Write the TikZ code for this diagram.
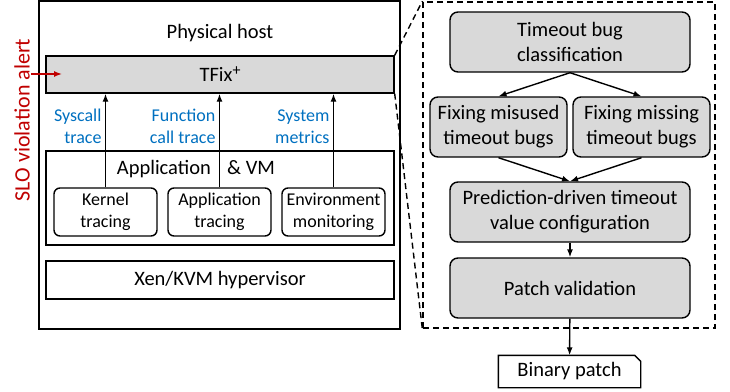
\documentclass[tikz,border=0pt]{standalone}
\usepackage{fontspec}
\setmainfont{Carlito}
\usetikzlibrary{arrows.meta}

\definecolor{boxgray}{RGB}{217,217,217}
\definecolor{traceblue}{RGB}{0,112,192}
\definecolor{alertred}{RGB}{192,0,0}

\begin{document}
\begin{tikzpicture}[x=1pt, y=-1pt, line width=1.4pt, >={Latex[length=8pt,width=6pt]},
        big/.style={font=\fontsize{20.5}{25}\selectfont},
        small/.style={font=\fontsize{18}{22}\selectfont},
        layer/.style={draw, rectangle, minimum width=348, minimum height=#1, inner sep=0pt, big},
        probe/.style={draw, rounded corners=6pt, minimum width=103, minimum height=48, inner sep=0pt, align=center, small},
        stage/.style={draw, fill=boxgray, rounded corners=8pt, minimum width=240, minimum height=60, inner sep=0pt, align=center, big}]
        \useasboundingbox (0,0) rectangle (730,391);

        % physical host
        \node [draw, minimum width=361, minimum height=328, inner sep=0pt] (host) at (219.5,165) {};
        \node [big] (hostlbl) at (220,33) {Physical host};
        \node [layer=37, fill=boxgray] (tfix) at (220,74.5) {TFix\raisebox{0.6ex}{\fontsize{16}{16}\selectfont +}};
        \node [layer=94] (appvm) at (220,198) {};
        \node [big] (appvmlbl) at (196,169) {Application\hspace{0.8em}\& VM};
        \node [layer=38] (hyper) at (220,280) {Xen/KVM hypervisor};

        \node [probe] (kernel) at (105.5,212) {Kernel\\tracing};
        \node [probe] (apptr) at (219.5,212) {Application\\tracing};
        \node [probe] (envmon) at (333.5,212) {Environment\\monitoring};

        \foreach \p/\t in {kernel/{Syscall\\trace}, apptr/{Function\\call trace}, envmon/{System\\metrics}}{
            \draw [->] (\p.north) -- (\p.north |- tfix.south)
                node [pos=0.65, left, align=right, small, text=traceblue] (\p-lbl) {\t};
        }

        % alert
        \node [font=\fontsize{22}{26}\selectfont, text=alertred, rotate=90] (slo) at (22,120) {SLO violation alert};
        \coordinate (alertin) at (31,74);
        \coordinate (alerttip) at (62,74);
        \draw [->, alertred] (alertin) -- (alerttip);

        % TFix+ internals
        \node [draw, dash pattern=on 6pt off 4pt, minimum width=292, minimum height=326, inner sep=0pt] (zoom) at (569,165) {};
        \draw [dash pattern=on 6pt off 4pt] (tfix.north east) -- (zoom.north west);
        \draw [dash pattern=on 6pt off 4pt] (tfix.south east) -- (zoom.south west);

        \node [stage] (classify) at (570,42) {Timeout bug\\classification};
        \node [stage, minimum width=137] (misused) at (498.5,127) {Fixing misused\\timeout bugs};
        \node [stage, minimum width=137] (missing) at (641.5,127) {Fixing missing\\timeout bugs};
        \node [stage] (predict) at (570,212) {Prediction-driven timeout\\value configuration};
        \node [stage] (patchval) at (570,288) {Patch validation};
        \node [minimum width=141, minimum height=31, inner sep=0pt, big] (binpatch) at (569.5,371.5) {Binary patch};
        \draw (binpatch.south west) -- (binpatch.north west) -- ([xshift=-6pt]binpatch.north east)
            -- ([yshift=-6pt]binpatch.north east) -- (binpatch.south east) -- cycle;

        \draw [->] (classify.south) -- (misused.north);
        \draw [->] (classify.south) -- (missing.north);
        \draw [->] (misused.south) -- (predict.north);
        \draw [->] (missing.south) -- (predict.north);
        \draw [->] (predict) -- (patchval);
        \draw [->] (patchval) -- (binpatch);
    \end{tikzpicture}
\end{document}
